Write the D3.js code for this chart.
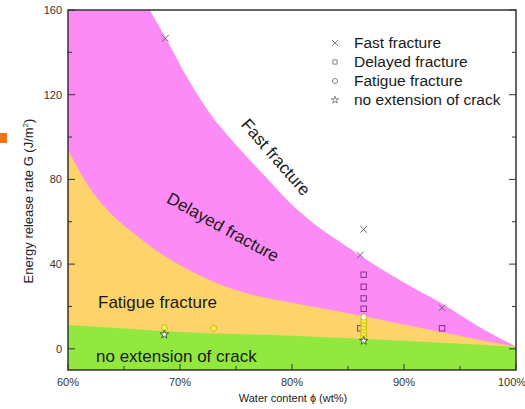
<!DOCTYPE html>
<html lang="en">
<head>
    <meta charset="UTF-8">
    <title>Fracture regimes vs water content</title>
    <style>
        body {
            margin: 0;
            background: #fff;
            font-family: "Liberation Sans", Arial, sans-serif;
        }
        .tick-label {
            font-size: 11px;
            fill: #333;
        }
        .region-label {
            font-size: 17px;
            fill: #1a1a1a;
        }
        .legend text {
            font-size: 15.5px;
            fill: #1a1a1a;
        }
    </style>
</head>
<body>
    <div id="chart"></div>

    <script src="https://d3js.org/d3.v7.min.js"></script>
    <script>
// Boundary curves: [water content %, G in J/m2]
const fastBoundary = [[67.3, 160], [68.7, 147], [70.6, 128.5], [72.7, 111], [75.4, 94], [78.3, 77.5],
    [80, 68], [82, 59], [84, 51.5], [86.1, 44], [89.6, 32.5], [93.5, 21], [96.5, 11], [100, 1]];
const fatigueBoundary = [[60, 94], [62, 75.5], [64, 63], [66, 54], [68, 46], [70, 39.5], [72, 34],
    [74, 29.5], [77, 24.8], [80, 21.8], [83, 18.8], [86.5, 15.3], [90, 11.5], [93, 8.3], [96, 5], [100, 1]];
const noCrackBoundary = [[60, 11.2], [65, 9.6], [70, 8.0], [75, 7.0], [80, 6.2], [85, 5.0],
    [90, 3.8], [95, 2.4], [100, 1]];

// Measured points
const fastPoints = [[68.7, 146.6], [86.4, 56.4], [86.1, 44.3], [93.4, 19.4]];
const delayedPoints = [[86.4, 35.0], [86.4, 29.3], [86.4, 23.8], [86.4, 18.9], [86.1, 9.7], [93.4, 9.7]];
const fatiguePoints = [[68.6, 10.0], [73.0, 9.7], [86.4, 5.8], [86.4, 7.3], [86.4, 8.8], [86.4, 10.3],
    [86.4, 11.8], [86.4, 13.3], [86.4, 15.0]];
const noCrackPoints = [[68.6, 6.8], [86.4, 3.8]];

const xTicks = [60, 70, 80, 90, 100];
const xMinor = [65, 75, 85, 95];
const yTicks = [0, 40, 80, 120, 160];
const yMinor = [20, 60, 100, 140];

const legendItems = ["Fast fracture", "Delayed fracture", "Fatigue fracture", "no extension of crack"];

const width = 525, height = 409;
const margin = { top: 10, right: 9, bottom: 39, left: 68 };

const svg = d3.select("#chart")
    .append("svg")
    .attr("width", width)
    .attr("height", height);

const x = d3.scaleLinear()
    .domain([60, 100])
    .range([margin.left, width - margin.right]);

const y = d3.scaleLinear()
    .domain([-10, 160])
    .range([height - margin.bottom, margin.top]);

const [x0, x1] = x.range();
const [yb, yt] = y.range();

svg.append("clipPath").attr("id", "plot")
    .append("rect")
    .attr("x", x0).attr("y", yt)
    .attr("width", x1 - x0).attr("height", yb - yt);

const regions = svg.append("g").attr("clip-path", "url(#plot)");

// delayed fracture fills everything, other zones are layered on top
regions.append("rect")
    .attr("x", x0).attr("y", yt)
    .attr("width", x1 - x0).attr("height", yb - yt)
    .attr("fill", "#fd8bf6");

regions.append("path")
    .datum(fastBoundary)
    .attr("fill", "#fff")
    .attr("d", d3.area()
        .x(d => x(d[0]))
        .y0(y(165))
        .y1(d => y(d[1]))
        .curve(d3.curveMonotoneX));

regions.append("path")
    .datum(fatigueBoundary)
    .attr("fill", "#fdd36c")
    .attr("d", d3.area()
        .x(d => x(d[0]))
        .y0(y(-10))
        .y1(d => y(d[1]))
        .curve(d3.curveMonotoneX));

regions.append("path")
    .datum(noCrackBoundary)
    .attr("fill", "#92e83f")
    .attr("d", d3.area()
        .x(d => x(d[0]))
        .y0(y(-10))
        .y1(d => y(d[1]))
        .curve(d3.curveMonotoneX));

// region labels
svg.append("text").attr("class", "region-label")
    .attr("transform", "translate(276,157) rotate(49)")
    .attr("text-anchor", "middle").attr("dy", "0.35em")
    .text("Fast fracture");

svg.append("text").attr("class", "region-label")
    .attr("transform", "translate(223,227) rotate(29)")
    .attr("text-anchor", "middle").attr("dy", "0.35em")
    .text("Delayed fracture");

svg.append("text").attr("class", "region-label")
    .attr("x", 98).attr("y", 308)
    .text("Fatigue fracture");

svg.append("text").attr("class", "region-label")
    .attr("x", 96).attr("y", 362)
    .text("no extension of crack");

// markers
const cross = d3.symbol().type(d3.symbolX).size(30);
const star = d3.symbol().type(d3.symbolStar).size(22);

svg.append("g").selectAll("path")
    .data(fastPoints)
    .join("path")
    .attr("transform", d => `translate(${x(d[0])},${y(d[1])})`)
    .attr("d", cross)
    .attr("fill", "none")
    .attr("stroke", "#6a6a6a")
    .attr("stroke-width", 1);

svg.append("g").selectAll("rect")
    .data(delayedPoints)
    .join("rect")
    .attr("x", d => x(d[0]) - 2.7)
    .attr("y", d => y(d[1]) - 2.7)
    .attr("width", 5.4)
    .attr("height", 5.4)
    .attr("fill", "none")
    .attr("stroke", "#8d2c8d")
    .attr("stroke-width", 1);

svg.append("g").selectAll("circle")
    .data(fatiguePoints)
    .join("circle")
    .attr("cx", d => x(d[0]))
    .attr("cy", d => y(d[1]))
    .attr("r", 3)
    .attr("fill", (d, i) => i === fatiguePoints.length - 1 ? "#fffff0" : "#f7f04a")
    .attr("stroke", "#b8a800")
    .attr("stroke-width", 0.7);

svg.append("g").selectAll("path")
    .data(noCrackPoints)
    .join("path")
    .attr("transform", d => `translate(${x(d[0])},${y(d[1])})`)
    .attr("d", star)
    .attr("fill", "#fff")
    .attr("stroke", "#333")
    .attr("stroke-width", 0.8);

// frame and ticks
svg.append("rect")
    .attr("x", x0).attr("y", yt)
    .attr("width", x1 - x0).attr("height", yb - yt)
    .attr("fill", "none")
    .attr("stroke", "#333")
    .attr("stroke-width", 1.5);

const ticks = svg.append("g").attr("stroke", "#333").attr("stroke-width", 1);

ticks.selectAll(".xt")
    .data(xTicks.concat(xMinor))
    .join("line")
    .attr("x1", d => x(d)).attr("x2", d => x(d))
    .attr("y1", yb).attr("y2", d => yb - (xTicks.includes(d) ? 6 : 4));

ticks.selectAll(".yl")
    .data(yTicks.concat(yMinor))
    .join("line")
    .attr("class", "yl")
    .attr("y1", d => y(d)).attr("y2", d => y(d))
    .attr("x1", x0).attr("x2", d => x0 + (yTicks.includes(d) ? 7 : 4));

ticks.selectAll(".yr")
    .data(yTicks.concat(yMinor))
    .join("line")
    .attr("class", "yr")
    .attr("y1", d => y(d)).attr("y2", d => y(d))
    .attr("x1", x1).attr("x2", d => x1 - (yTicks.includes(d) ? 7 : 4));

// last label is pushed left so it stays inside the page
svg.append("g").selectAll("text")
    .data(xTicks)
    .join("text")
    .attr("class", "tick-label")
    .attr("x", d => Math.min(x(d), width - 13))
    .attr("y", yb + 16)
    .attr("text-anchor", "middle")
    .text(d => d + "%");

svg.append("g").selectAll("text")
    .data(yTicks)
    .join("text")
    .attr("class", "tick-label")
    .attr("x", x0 - 6)
    .attr("y", d => y(d))
    .attr("dy", "0.35em")
    .attr("text-anchor", "end")
    .text(d => d);

// axis titles
svg.append("text")
    .attr("x", 293).attr("y", 402)
    .attr("text-anchor", "middle")
    .attr("font-size", 11).attr("fill", "#222")
    .text("Water content \u03d5 (wt%)");

const yTitle = svg.append("text")
    .attr("transform", "translate(33,201) rotate(-90)")
    .attr("text-anchor", "middle")
    .attr("font-size", 13).attr("fill", "#222");
yTitle.append("tspan").text("Energy release rate G (J/m");
yTitle.append("tspan").attr("font-size", 8).attr("dy", -5).text("2");
yTitle.append("tspan").attr("dy", 5).text(")");

// legend
const legend = svg.append("g").attr("class", "legend");
const legendRow = d3.scalePoint().domain(legendItems).range([43, 100]);
const symbols = [
    d3.symbol().type(d3.symbolX).size(24),
    d3.symbol().type(d3.symbolSquare).size(18),
    d3.symbol().type(d3.symbolCircle).size(20),
    d3.symbol().type(d3.symbolStar).size(16)
];

legendItems.forEach((name, i) => {
    const g = legend.append("g").attr("transform", `translate(335,${legendRow(name)})`);
    g.append("path")
        .attr("d", symbols[i])
        .attr("fill", "none")
        .attr("stroke", "#777")
        .attr("stroke-width", 0.9);
    g.append("text")
        .attr("x", 19)
        .attr("dy", "0.35em")
        .text(name);
});

// small orange mark at the left edge of the figure
svg.append("rect")
    .attr("x", 0).attr("y", 133)
    .attr("width", 7).attr("height", 10)
    .attr("fill", "#f07318");
    </script>
</body>
</html>
